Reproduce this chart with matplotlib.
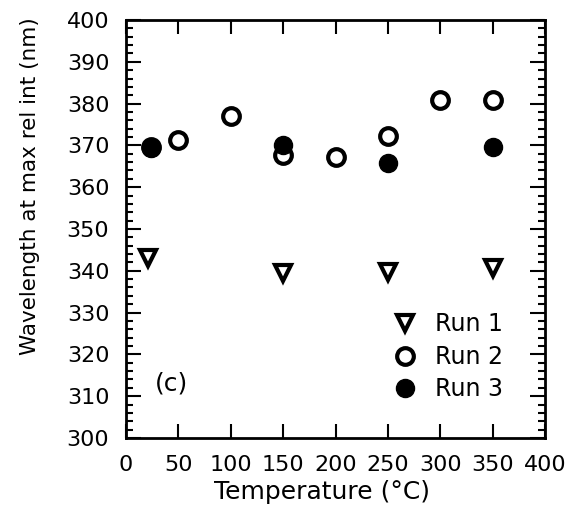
import numpy as np
import matplotlib
matplotlib.use("Agg")
import matplotlib.pyplot as plt
from matplotlib.ticker import MultipleLocator

# measured peak wavelengths (nm) against temperature (C)
run1_t = [21, 150, 250, 350]
run1_w = [343, 339.5, 339.8, 340.7]

run2_t = [24, 50, 100, 150, 200, 250, 300, 350]
run2_w = [369.5, 371.3, 377, 367.7, 367.3, 372.2, 380.9, 380.9]

run3_t = [24, 150, 250, 350]
run3_w = [369.3, 370, 365.9, 369.7]

xticks = [0, 50, 100, 150, 200, 250, 300, 350, 400]
yticks = np.arange(300, 401, 10)

fs = 16
plt.rcParams["font.family"] = "DejaVu Sans"
fig = plt.figure(figsize=(5.74, 5.22), dpi=100)
ax = fig.add_axes([0.2195, 0.161, 0.73, 0.8007])

ax.plot(run1_t, run1_w, "v", ms=12, mfc="white", mec="black", mew=3,
        label="Run 1")
ax.plot(run2_t, run2_w, "o", ms=12, mfc="white", mec="black", mew=3,
        label="Run 2")
ax.plot(run3_t, run3_w, "o", ms=13, mfc="black", mec="black", mew=1,
        label="Run 3")

ax.set_xlim(0, 400)
ax.set_ylim(300, 400)
ax.set_xticks(xticks)
ax.set_yticks(yticks)
ax.yaxis.set_minor_locator(MultipleLocator(2))

# ticks point inward on every side
ax.tick_params(which="both", direction="in", top=True, right=True,
               labelsize=fs, width=1.5, pad=12)
ax.tick_params(axis="y", which="major", length=11)
ax.tick_params(axis="y", which="minor", length=5)
ax.tick_params(axis="x", which="major", length=10)
for s in ax.spines.values():
    s.set_linewidth(2)

ax.set_xlabel("Temperature (°C)", fontsize=fs + 2)
ax.set_ylabel("Wavelength at max rel int (nm)", fontsize=fs - 0.5)
ax.xaxis.set_label_coords(0.468, -0.10)
ax.yaxis.set_label_coords(-0.205, 0.603)

ax.text(28, 313, "(c)", fontsize=fs + 2, va="center")

ax.legend(loc="lower right", frameon=False, fontsize=fs + 1,
          handletextpad=0.3, labelspacing=0.36, borderaxespad=0.8,
          bbox_to_anchor=(0.968, 0.02))

fig.savefig("out.png", dpi=100)
